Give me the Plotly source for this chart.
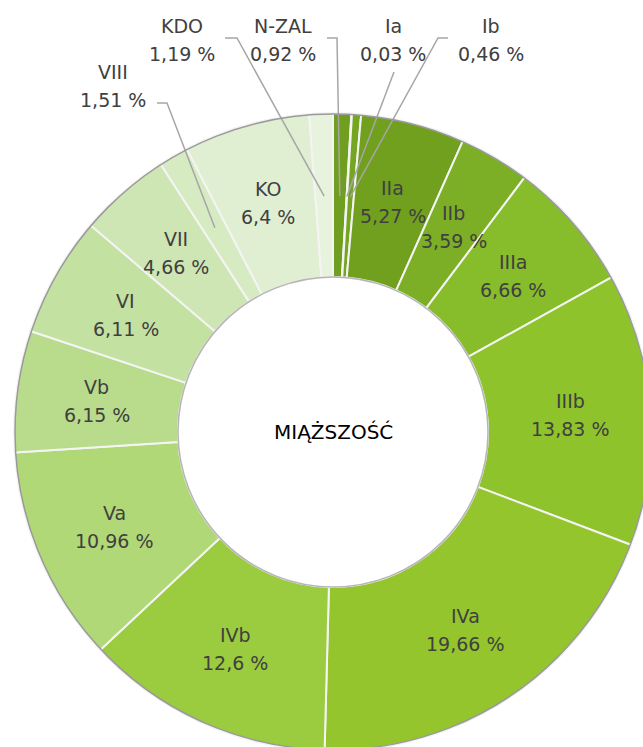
import math
import plotly.graph_objects as go

# ---- data (clockwise from 12 o'clock) ----
labels = ["N-ZAL", "Ia", "Ib", "IIa", "IIb", "IIIa", "IIIb", "IVa", "IVb",
          "Va", "Vb", "VI", "VII", "VIII", "KO", "KDO"]
values = [0.92, 0.03, 0.46, 5.27, 3.59, 6.66, 13.83, 19.66, 12.6,
          10.96, 6.15, 6.11, 4.66, 1.51, 6.4, 1.19]
value_text = ["0,92 %", "0,03 %", "0,46 %", "5,27 %", "3,59 %", "6,66 %", "13,83 %",
              "19,66 %", "12,6 %", "10,96 %", "6,15 %", "6,11 %", "4,66 %", "1,51 %",
              "6,4 %", "1,19 %"]
colors = ["#6f9e20", "#78a824", "#76a523", "#70a01e", "#7caf25", "#87bc2a", "#8ec32b",
          "#94c52d", "#9bcb3f", "#b0d877", "#b9dc8c", "#c3e1a1", "#cee6b4", "#d7ebc3",
          "#e0efd1", "#e8f3de"]
center_title = "MIĄŻSZOŚĆ"

# outside labels: name -> (label centre x, y in px) and leader elbow points
outside = {
    "KDO":   dict(pos=(182, 40), path=[(225, 38), (237, 38)]),
    "N-ZAL": dict(pos=(283, 40), path=[(327, 38), (337, 38)]),
    "Ia":    dict(pos=(393, 40), path=[(394, 72)]),
    "Ib":    dict(pos=(491, 40), path=[(448, 38), (438, 38)]),
    "VIII":  dict(pos=(113, 86), path=[(157, 103), (167, 103)]),
}

# ---- geometry ----
W, H = 660, 760
ML, MR, MT, MB = 14, 8, 113, 9
PW = W - ML - MR
PH = H - MT - MB
R_OUT = PW / 2
HOLE = 0.486
CX, CY = ML + PW / 2, MT + PH / 2
R_LAB = 238
R_LEAD = 236


def px2paper(x, y):
    return (x - ML) / PW, 1 - (y - MT) / PH


def polar(angle_deg, r):
    a = math.radians(angle_deg)
    return CX + r * math.sin(a), CY - r * math.cos(a)


total = sum(values)
mids = []
cum = 0
for v in values:
    mids.append((cum + v / 2) / total * 360)
    cum += v

fig = go.Figure(go.Pie(
    labels=labels, values=values, sort=False, direction="clockwise", rotation=0,
    hole=HOLE, marker=dict(colors=colors, line=dict(color="#f4f4f4", width=2)),
    textinfo="none", hoverinfo="label+percent", showlegend=False,
))

annotations = []
shapes = []
font_lab = dict(family="DejaVu Sans", size=19, color="#404040")

for i, name in enumerate(labels):
    if name in outside:
        x, y = outside[name]["pos"]
        pts = outside[name]["path"] + [polar(mids[i], R_LEAD)]
        path = "M " + " L ".join(f"{px2paper(a, b)[0]},{px2paper(a, b)[1]}" for a, b in pts)
        shapes.append(dict(type="path", xref="paper", yref="paper", path=path,
                           line=dict(color="#a6a6a6", width=1.5)))
    else:
        x, y = polar(mids[i], R_LAB)
    for txt, dy in ((name, -14), (value_text[i], 14)):
        ax, ay = px2paper(x, y + dy)
        annotations.append(dict(x=ax, y=ay, xref="paper", yref="paper", text=txt,
                                showarrow=False, font=font_lab,
                                xanchor="center", yanchor="middle"))

ax, ay = px2paper(CX, CY)
annotations.append(dict(x=ax, y=ay, xref="paper", yref="paper", text=center_title,
                        showarrow=False, font=dict(family="DejaVu Sans", size=20, color="#000000")))

# ring outlines
for r, col in ((R_OUT - 1, "#9a9a9a"), (R_OUT * HOLE, "#b5b5b5")):
    x0, y0 = px2paper(CX - r, CY - r)
    x1, y1 = px2paper(CX + r, CY + r)
    shapes.append(dict(type="circle", xref="paper", yref="paper", x0=x0, y0=y1, x1=x1, y1=y0,
                       line=dict(color=col, width=1.5), layer="above"))

fig.update_layout(
    width=W, height=H, margin=dict(l=ML, r=MR, t=MT, b=MB),
    paper_bgcolor="white", plot_bgcolor="white",
    annotations=annotations, shapes=shapes,
)

fig.write_html("out.html", config={"displayModeBar": False},
               post_script="document.body.style.margin='0';document.body.style.overflow='hidden';")
